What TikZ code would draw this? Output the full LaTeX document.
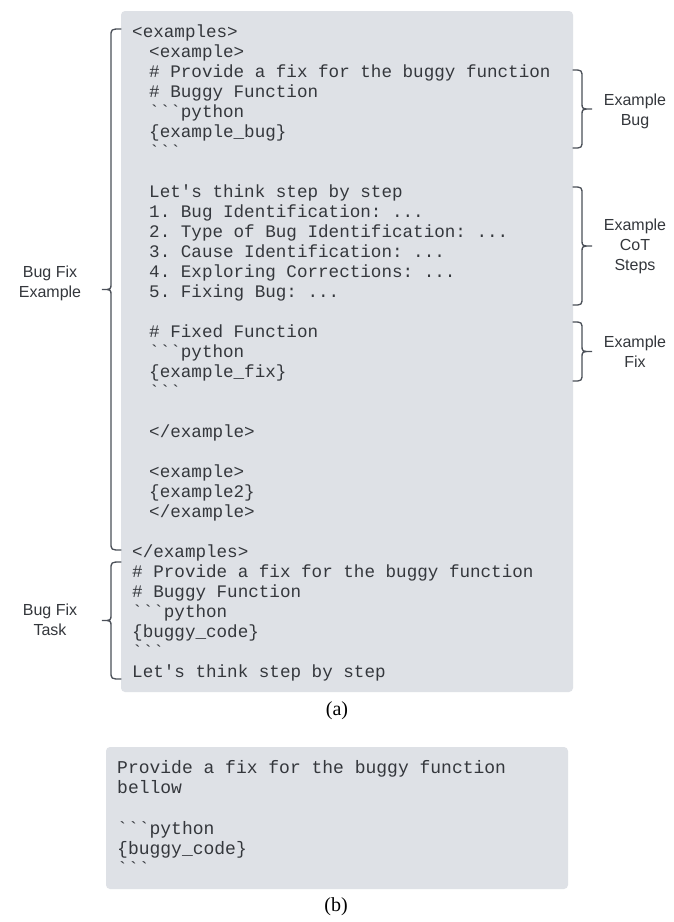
\documentclass[tikz,border=0pt]{standalone}
\usepackage{fontspec}
\setmainfont{Liberation Serif}
\setsansfont{Liberation Sans}
\newfontfamily\codefont{Liberation Mono}
\definecolor{boxfill}{RGB}{222,225,230}
\definecolor{codetext}{RGB}{52,55,60}
\definecolor{bracecol}{RGB}{75,80,88}
\newcommand{\bt}{\textasciigrave}
\newcommand{\sq}{\textquotesingle}
\frenchspacing
% left curly brace: #1 = x of hook ends, #2 = top y, #3 = bottom y
\newcommand{\leftcurly}[3]{%
  \draw[bracestyle] (#1,#2) .. controls ({#1-10},#2) .. ({#1-10},{#2+8})
    -- ({#1-10},{(#2+#3)/2-6}) .. controls ({#1-10},{(#2+#3)/2}) .. ({#1-19},{(#2+#3)/2})
    .. controls ({#1-10},{(#2+#3)/2}) .. ({#1-10},{(#2+#3)/2+6})
    -- ({#1-10},{#3-8}) .. controls ({#1-10},#3) .. (#1,#3);}
% right curly brace: #1 = x of hook ends, #2 = top y, #3 = bottom y
\newcommand{\rightcurly}[3]{%
  \draw[bracestyle] (#1,#2) .. controls ({#1+9},#2) .. ({#1+9},{#2+8})
    -- ({#1+9},{(#2+#3)/2-6}) .. controls ({#1+9},{(#2+#3)/2}) .. ({#1+19},{(#2+#3)/2})
    .. controls ({#1+9},{(#2+#3)/2}) .. ({#1+9},{(#2+#3)/2+6})
    -- ({#1+9},{#3-8}) .. controls ({#1+9},#3) .. (#1,#3);}
\begin{document}
\begin{tikzpicture}[x=1pt,y=-1pt,
  codeline/.style={anchor=base west, inner sep=0pt, text=codetext,
    font=\codefont\fontsize{17.6}{20}\selectfont},
  codelineb/.style={anchor=base west, inner sep=0pt, text=codetext,
    font=\codefont\fontsize{18}{20}\selectfont},
  sidelabel/.style={align=center, inner sep=0pt, text=codetext,
    font=\sffamily\fontsize{16}{20}\selectfont},
  caption/.style={inner sep=0pt, text=black, font=\fontsize{20}{24}\selectfont},
  bracestyle/.style={draw=bracecol, line width=1.3pt, line cap=round},
  codebox/.style={fill=boxfill, rounded corners=4pt}]
\useasboundingbox (0,0) rectangle (673,922);
\fill[white] (0,0) rectangle (673,922);

% boxes
\fill[codebox] (121,11) rectangle (573,692);
\fill[codebox] (106,747) rectangle (568,889);

% code (a)
\node[codeline] (l0)  at (132,37)  {<examples>};
\node[codeline] (l1)  at (149,57)  {<example>};
\node[codeline] (l2)  at (149,77)  {\# Provide a fix for the buggy function};
\node[codeline] (l3)  at (149,97)  {\# Buggy Function};
\node[codeline] (l4)  at (149,117) {\bt\bt\bt python};
\node[codeline] (l5)  at (149,137) {\{example\_bug\}};
\node[codeline] (l6)  at (149,157) {\bt\bt\bt};
\node[codeline] (l8)  at (149,197) {Let\sq s think step by step};
\node[codeline] (l9)  at (149,217) {1. Bug Identification: ...};
\node[codeline] (l10) at (149,237) {2. Type of Bug Identification: ...};
\node[codeline] (l11) at (149,257) {3. Cause Identification: ...};
\node[codeline] (l12) at (149,277) {4. Exploring Corrections: ...};
\node[codeline] (l13) at (149,297) {5. Fixing Bug: ...};
\node[codeline] (l15) at (149,337) {\# Fixed Function};
\node[codeline] (l16) at (149,357) {\bt\bt\bt python};
\node[codeline] (l17) at (149,377) {\{example\_fix\}};
\node[codeline] (l18) at (149,397) {\bt\bt\bt};
\node[codeline] (l20) at (149,437) {</example>};
\node[codeline] (l22) at (149,477) {<example>};
\node[codeline] (l23) at (149,497) {\{example2\}};
\node[codeline] (l24) at (149,517) {</example>};
\node[codeline] (l26) at (132,557) {</examples>};
\node[codeline] (l27) at (132,577) {\# Provide a fix for the buggy function};
\node[codeline] (l28) at (132,597) {\# Buggy Function};
\node[codeline] (l29) at (132,617) {\bt\bt\bt python};
\node[codeline] (l30) at (132,637) {\{buggy\_code\}};
\node[codeline] (l31) at (132,657) {\bt\bt\bt};
\node[codeline] (l32) at (132,677) {Let\sq s think step by step};

% code (b)
\node[codelineb] (b0) at (117,773) {Provide a fix for the buggy function};
\node[codelineb] (b1) at (117,793) {bellow};
\node[codelineb] (b3) at (117,834) {\bt\bt\bt python};
\node[codelineb] (b4) at (117,854) {\{buggy\_code\}};
\node[codelineb] (b5) at (117,874) {\bt\bt\bt};

% braces
\leftcurly{121}{29}{550}
\leftcurly{121}{562}{679}
\rightcurly{573}{70}{148}
\rightcurly{573}{187}{305}
\rightcurly{573}{322}{381}

% side labels
\node[sidelabel] (lblexample) at (50,283) {Bug Fix\\Example};
\node[sidelabel] (lbltask) at (50,620) {Bug Fix\\Task};
\node[sidelabel] (lblbug) at (635,111) {Example\\Bug};
\node[sidelabel] (lblcot) at (635,246) {Example\\CoT\\Steps};
\node[sidelabel] (lblfix) at (635,352) {Example\\Fix};

% captions
\node[caption] (capa) at (337,711) {(a)};
\node[caption] (capb) at (336,907) {(b)};
\end{tikzpicture}
\end{document}
